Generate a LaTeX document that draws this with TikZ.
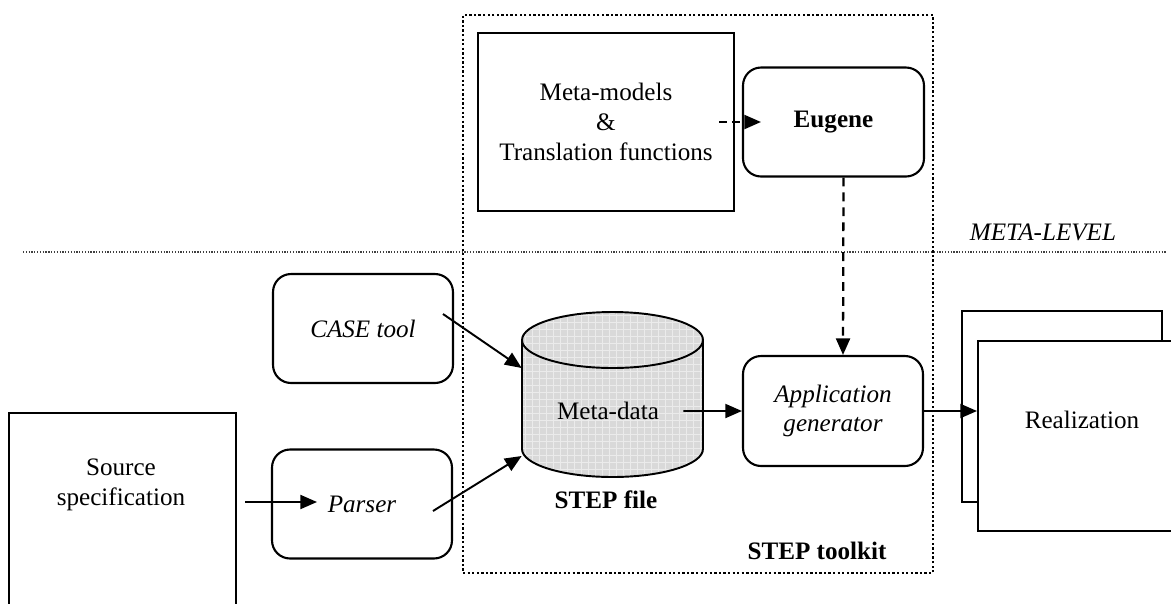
\documentclass[tikz,border=0pt]{standalone}
\usepackage{fontspec}
\setmainfont{Liberation Serif}
\usetikzlibrary{arrows.meta,calc}
\begin{document}
\begin{tikzpicture}[x=0.02cm,y=-0.02cm,
  font=\fontsize{14.3}{17}\selectfont,
  sqbox/.style={draw,line width=1.4pt,inner sep=0pt,align=center},
  rbox/.style={draw,line width=1.2pt,rounded corners=0.36cm,inner sep=0pt,align=center,minimum width=3.6cm,minimum height=2.18cm},
  arr/.style={line width=1.1pt,-{Triangle[length=9.5pt,width=8pt]}},
  dasharr/.style={arr,line width=1.3pt,dash pattern=on 5pt off 3.5pt},
  tkbox/.style={draw,line width=1.4pt,dash pattern=on 1.3pt off 1.3pt,inner sep=0pt},
  metaline/.style={line width=0.7pt,dash pattern=on 0.7pt off 0.9pt,black!75},
  cylfill/.style={fill=black!15},
  gridline/.style={black!8,line width=0.4pt},
  cylline/.style={draw,line width=1.1pt}]
\clip (0,0) rectangle (1171,603);
\useasboundingbox (0,0) rectangle (1171,603);

% separators
\node[tkbox,minimum width=9.4cm,minimum height=11.16cm] (toolkit) at (698,294) {};
\coordinate (mlA) at (23,252);
\coordinate (mlB) at (1167,252);
\draw[metaline] (mlA) -- (mlB);
\node[font=\fontsize{14.3}{17}\selectfont\itshape] (metalevel) at (1043,232) {META-LEVEL};
\node[font=\fontsize{14.3}{17}\selectfont\bfseries] (tklabel) at (817,551) {STEP toolkit};

% meta level
\node[sqbox,minimum width=5.12cm,minimum height=3.56cm] (mm) at (606,122) {Meta-models\\\&\\Translation functions};
\node[rbox,minimum width=3.62cm] (eug) at (833.5,122) {\textbf{Eugene}};

% tools
\node[rbox] (case) at (363,328.5) {\itshape CASE tool};
\node[rbox] (parser) at (362,504) {\itshape Parser};
\node[rbox,minimum height=2.2cm] (app) at (833,411) {\itshape Application\\\itshape generator};

% source spec
\node[sqbox,anchor=north west,minimum width=4.54cm,minimum height=4.5cm] (src) at (8,412) {};
\node[align=center] (srctext) at (121,485) {Source\\specification};

% realization
\node[sqbox,minimum width=4cm,minimum height=3.82cm] (realback) at (1062,406.5) {};
\node[sqbox,fill=white,anchor=north west,minimum width=4.3cm,minimum height=3.8cm] (real) at (977,340) {};
\node (realtext) at (1082,420) {Realization};

% cylinder
\begin{scope}
\clip (522,340) -- (522,449) arc[start angle=180,end angle=360,x radius=1.81cm,y radius=0.56cm] -- (703,340) arc[start angle=0,end angle=180,x radius=1.81cm,y radius=0.56cm] -- cycle;
\fill[cylfill] (510,300) rectangle (715,490);
\draw[gridline,step=0.14cm] (510,300) grid (715,490);
\end{scope}
\draw[cylline] (522,340) -- (522,449) arc[start angle=180,end angle=360,x radius=1.81cm,y radius=0.56cm] -- (703,340) arc[start angle=0,end angle=180,x radius=1.81cm,y radius=0.56cm] -- cycle;
\draw[cylline] (522,340) arc[start angle=180,end angle=360,x radius=1.81cm,y radius=0.56cm];
\node[minimum width=3.62cm,minimum height=3.3cm,inner sep=0pt] (cyl) at (612.5,394.5) {};
\node (cyltext) at (608,411) {Meta-data};
\node[font=\fontsize{14.3}{17}\selectfont\bfseries] (steplabel) at (606,500) {STEP file};

% connectors
\draw[dasharr,dash pattern=on 4.5pt off 3pt] ($(mm.east)+(-16,0)$) -- ($(eug.west)+(19,0)$);
\draw[dasharr] ($(eug.south)+(10,0)$) -- ($(app.north)+(10,0)$);
\draw[arr] ($(case.center)+(80,-14.5)$) -- ($(cyl.west)+(0,-26.5)$);
\draw[arr] ($(parser.center)+(71,7)$) -- ($(cyl.west)+(0,61.5)$);
\draw[arr] ($(cyl.east)+(-20,16.5)$) -- (app.west);
\draw[arr] (app.east) -- (app.east -| real.west);
\draw[arr] ($(src.east |- parser.center)+(8,-2)$) -- ($(parser.center)+(-45,-2)$);
\end{tikzpicture}
\end{document}
